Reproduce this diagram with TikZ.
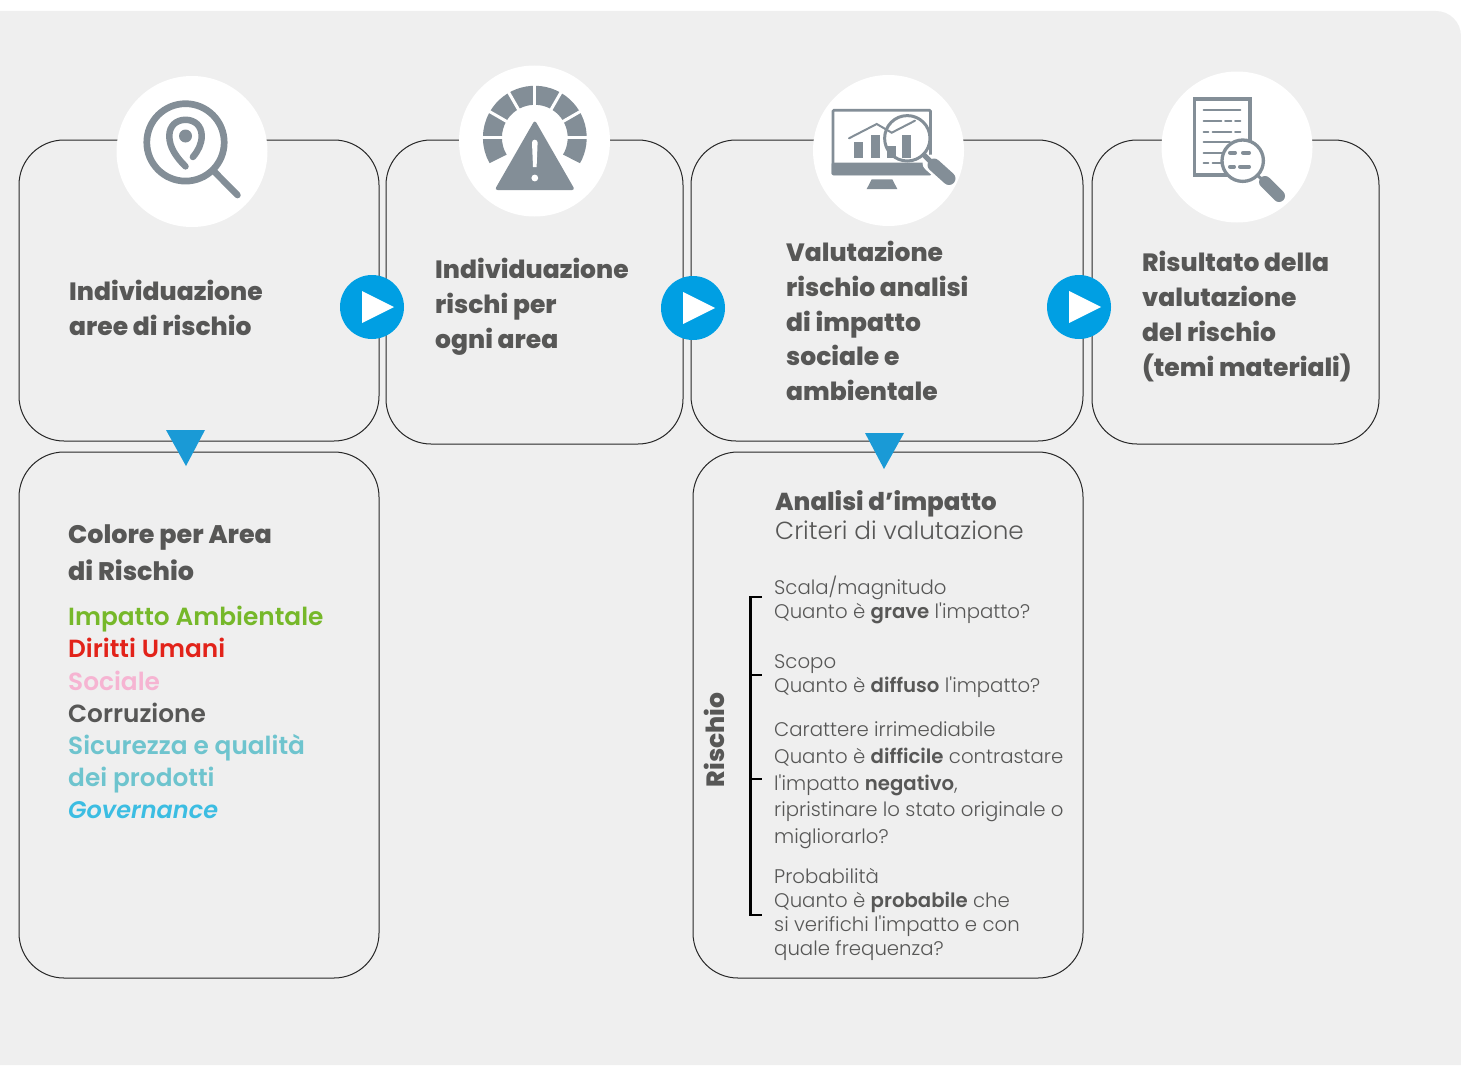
\documentclass[tikz,border=0pt]{standalone}
\usepackage{fontspec}
\setmainfont{Poppins Light}[BoldFont=Poppins SemiBold]
\newfontfamily\fontetitolo{Poppins ExtraBold}
\newfontfamily\fontelista{Poppins SemiBold}[ItalicFont=Poppins SemiBold Italic]
\usetikzlibrary{calc,positioning}
\definecolor{sfondo}{HTML}{EFEFEF}
\definecolor{grigioicona}{HTML}{838E97}
\definecolor{scritta}{HTML}{575756}
\definecolor{azzurro}{HTML}{009FE3}
\definecolor{freccia}{HTML}{1A9AD6}
\definecolor{verdearea}{HTML}{76B82A}
\definecolor{rossoarea}{HTML}{E2231A}
\definecolor{rosaarea}{HTML}{F6B4D2}
\definecolor{tealarea}{HTML}{6EC4CE}
\definecolor{celestearea}{HTML}{3CBDE2}
\tikzset{
  riquadro/.style={draw=black!85,line width=1pt,rounded corners=45pt,inner sep=0pt},
  cerchio/.style={circle,fill=white,minimum size=151pt,inner sep=0pt},
  play/.style={circle,fill=azzurro,minimum size=64pt,inner sep=0pt},
  titolo/.style={text=scritta,font=\fontetitolo\fontsize{25}{35}\selectfont,align=left,inner sep=0pt,anchor=west},
  voce/.style={font=\fontelista\fontsize{24.8}{32.2}\selectfont,inner sep=0pt,anchor=base west},
  testo/.style={text=scritta,font=\fontsize{19.7}{24}\selectfont,align=left,inner sep=0pt,anchor=north west},
  icona/.style={draw=grigioicona,line cap=round},
}
\begin{document}
\begin{tikzpicture}[x=1pt,y=-1pt]
    \useasboundingbox (0,0) rectangle (1461,1065);

    %Sfondo
    \fill[sfondo] (0,11) -- (1436,11) arc (-90:0:25) -- (1461,1065) -- (0,1065) -- cycle;

    %Riquadri
    \node[riquadro,minimum width=360pt,minimum height=301pt] (aree) at (199,290.5) {};
    \node[riquadro,minimum width=297pt,minimum height=304pt] (rischi) at (534.5,292) {};
    \node[riquadro,minimum width=392pt,minimum height=301pt] (valutazione) at (887,290.5) {};
    \node[riquadro,minimum width=287pt,minimum height=304pt] (risultato) at (1235.5,292) {};
    \node[riquadro,minimum width=360pt,minimum height=526pt] (colore) at (199,715) {};
    \node[riquadro,minimum width=390pt,minimum height=526pt] (analisi) at (888,715) {};

    %Cerchi
    \node[cerchio] (cerchioaree) at (192,151.5) {};
    \node[cerchio] (cerchiorischi) at (534.5,141) {};
    \node[cerchio] (cerchiovalutazione) at (888.5,150.5) {};
    \node[cerchio] (cerchiorisultato) at (1237,147) {};

    %Icona aree
    \draw[icona,line width=6.7pt] (185.5,142.4) circle (38.7);
    \draw[icona,line width=6.5pt] (214.9,172.2) -- (237.5,195.1);
    \draw[icona,line width=6.5pt] (185.5,166.4) .. controls (176,157) and (169.3,147) .. (169.3,136)
        .. controls (169.3,126) and (176,119.8) .. (185.5,119.8)
        .. controls (195,119.8) and (201.7,126) .. (201.7,136)
        .. controls (201.7,144) and (198,151) .. (192.9,157);
    \fill[grigioicona] (185.5,136) circle (6.5);

    %Icona rischi
    \coordinate (gauge) at (534.8,137.7);
    \draw[grigioicona,line width=19pt] (gauge) ++(30:42.4) arc (30:-210:42.4);
    \foreach \a in {0,-30,...,-180}
        \draw[white,line width=3pt] (gauge) ++(\a:28) -- ++(\a:28);
    \fill[grigioicona,rounded corners=3pt] (534.8,120) -- (575,190) -- (494.6,190) -- cycle;
    \fill[white] (532,142.5) arc (180:360:2.8) -- (536.6,167) -- (533,167) -- cycle;
    \fill[white] (534.8,178) circle (3.4);

    %Icona valutazione
    \draw[grigioicona,line width=2.7pt,rounded corners=1pt] (833,110.3) rectangle (930.4,174);
    \fill[grigioicona,rounded corners=1pt] (831.7,162.7) rectangle (931.7,175);
    \fill[grigioicona] (871.7,179.3) -- (892.3,179.3) -- (897.3,189) -- (866.7,189) -- cycle;
    \fill[grigioicona] (854.3,141.7) rectangle (863.3,157.7);
    \fill[grigioicona] (871.3,135) rectangle (880.3,157.7);
    \fill[grigioicona] (887.3,146) rectangle (896,157.7);
    \fill[grigioicona] (902,135) rectangle (911,157.7);
    \draw[icona,line width=2pt] (849,138.3) -- (876.7,124) -- (891.7,132.7) -- (915,120.7);
    \draw[white,line width=17pt,line cap=round] (931,163) -- (948.3,178.3);
    \draw[grigioicona,line width=3pt] (907.3,138.3) circle (22.7);
    \draw[icona,line width=13pt] (934,165) -- (949,178.5);
    \draw[icona,line width=5pt] (924,155) -- (934,165);

    %Icona risultato
    \draw[grigioicona,line width=3.5pt] (1194.4,99) rectangle (1250,175);
    \draw[icona,line width=1.7pt] (1203.5,110) -- (1240.5,110);
    \draw[icona,line width=1.7pt] (1203.5,121) -- (1221.5,121) (1225,121) -- (1231.5,121) (1235,121) -- (1240.5,121);
    \draw[icona,line width=1.7pt] (1203.5,131.7) -- (1208.5,131.7) (1212.5,131.7) -- (1231.5,131.7) (1235,131.7) -- (1240.5,131.7);
    \draw[icona,line width=1.7pt] (1203.5,141.7) -- (1230,141.7);
    \draw[icona,line width=1.7pt] (1203.5,152.7) -- (1223,152.7);
    \draw[icona,line width=1.7pt] (1203.5,163.3) -- (1208.5,163.3) (1212.5,163.3) -- (1223,163.3);
    \fill[white] (1242.7,160.7) circle (20.7);
    \draw[grigioicona,line width=3.3pt] (1242.7,160.7) circle (20.7);
    \draw[icona,line width=4pt] (1230,152.7) -- (1235,152.7) (1243,152.7) -- (1249,152.7);
    \draw[icona,line width=4pt] (1230,166.7) -- (1234,166.7) (1240,166.7) -- (1249,166.7);
    \draw[icona,line width=3pt] (1257,175) -- (1265,182);
    \draw[icona,line width=12pt] (1265,182) -- (1279,196);

    %Titoli
    \node[titolo] (tareerischio) at (69,308) {Individuazione\\aree di rischio};
    \node[titolo] (trischi) at (435,307) {Individuazione\\rischi per\\ogni area};
    \node[titolo,font=\fontetitolo\fontsize{25}{34.6}\selectfont] (tvalutazione) at (786,321) {Valutazione\\rischio analisi\\di impatto\\sociale e\\ambientale};
    \node[titolo] (trisultato) at (1142,317) {Risultato della\\valutazione\\del rischio\\(temi materiali)};

    %Bottoni
    \node[play] (playuno) at (372,307) {};
    \fill[white] ($(playuno)+(-10,-16)$) -- ($(playuno)+(22,0)$) -- ($(playuno)+(-10,16)$) -- cycle;
    \node[play] (playdue) at (693,308) {};
    \fill[white] ($(playdue)+(-10,-16)$) -- ($(playdue)+(22,0)$) -- ($(playdue)+(-10,16)$) -- cycle;
    \node[play] (playtre) at (1079,307) {};
    \fill[white] ($(playtre)+(-10,-16)$) -- ($(playtre)+(22,0)$) -- ($(playtre)+(-10,16)$) -- cycle;

    %Frecce in basso
    \fill[freccia] (166,430) -- (205,430) -- (186,466) -- cycle;
    \fill[freccia] (865,433) -- (904,433) -- (884,469) -- cycle;

    %Colore per area
    \node[titolo,font=\fontetitolo\fontsize{25.4}{37}\selectfont] (tcolore) at (68,552.5) {Colore per Area\\di Rischio};
    \node[voce,text=verdearea] (vambiente) at (68,625) {Impatto Ambientale};
    \node[voce,text=rossoarea] (vdiritti) at (68,657) {Diritti Umani};
    \node[voce,text=rosaarea] (vsociale) at (68,690) {Sociale};
    \node[voce,text=scritta] (vcorruzione) at (68,722) {Corruzione};
    \node[voce,text=tealarea] (vsicurezza) at (68,754) {Sicurezza e qualità};
    \node[voce,text=tealarea] (vprodotti) at (68,786) {dei prodotti};
    \node[voce,text=celestearea,font=\fontelista\fontsize{24}{32}\selectfont\itshape] (vgovernance) at (68,818) {Governance};

    %Analisi
    \node[titolo,font=\fontetitolo\fontsize{24.5}{35}\selectfont,anchor=north west] (tanalisi) at (775,490) {Analisi d’impatto};
    \node[testo,font=\fontsize{24.7}{30}\selectfont,anchor=north west] (tcriteri) at (775,521) {Criteri di valutazione};
    \node[testo] (tscala) at (774,576) {Scala/magnitudo\\Quanto è \textbf{grave} l\textquotesingle impatto?};
    \node[testo] (tscopo) at (774,654.5) {Scopo\\Quanto è \textbf{diffuso} l\textquotesingle impatto?};
    \node[testo,font=\fontsize{19.7}{26.8}\selectfont] (tcarattere) at (774,721.5) {Carattere irrimediabile\\Quanto è \textbf{difficile} contrastare\\l\textquotesingle impatto \textbf{negativo},\\ripristinare lo stato originale o\\migliorarlo?};
    \node[testo] (tprobabilita) at (774,868) {Probabilità\\Quanto è \textbf{probabile} che\\si verifichi l\textquotesingle impatto e con\\quale frequenza?};
    \node[titolo,anchor=center,rotate=90] (trischio) at (714.5,740) {Rischio};

    %Parentesi
    \coordinate (pa) at (762,597);
    \coordinate (pb) at (750.5,597);
    \coordinate (pc) at (750.5,915);
    \coordinate (pd) at (762,915);
    \draw[line width=2.4pt] (pa) -- (pb) -- (pc) -- (pd);
    \draw[line width=2.4pt] (750.5,675) -- (762,675);
    \draw[line width=2.4pt] (750.5,779) -- (762,779);
\end{tikzpicture}
\end{document}
